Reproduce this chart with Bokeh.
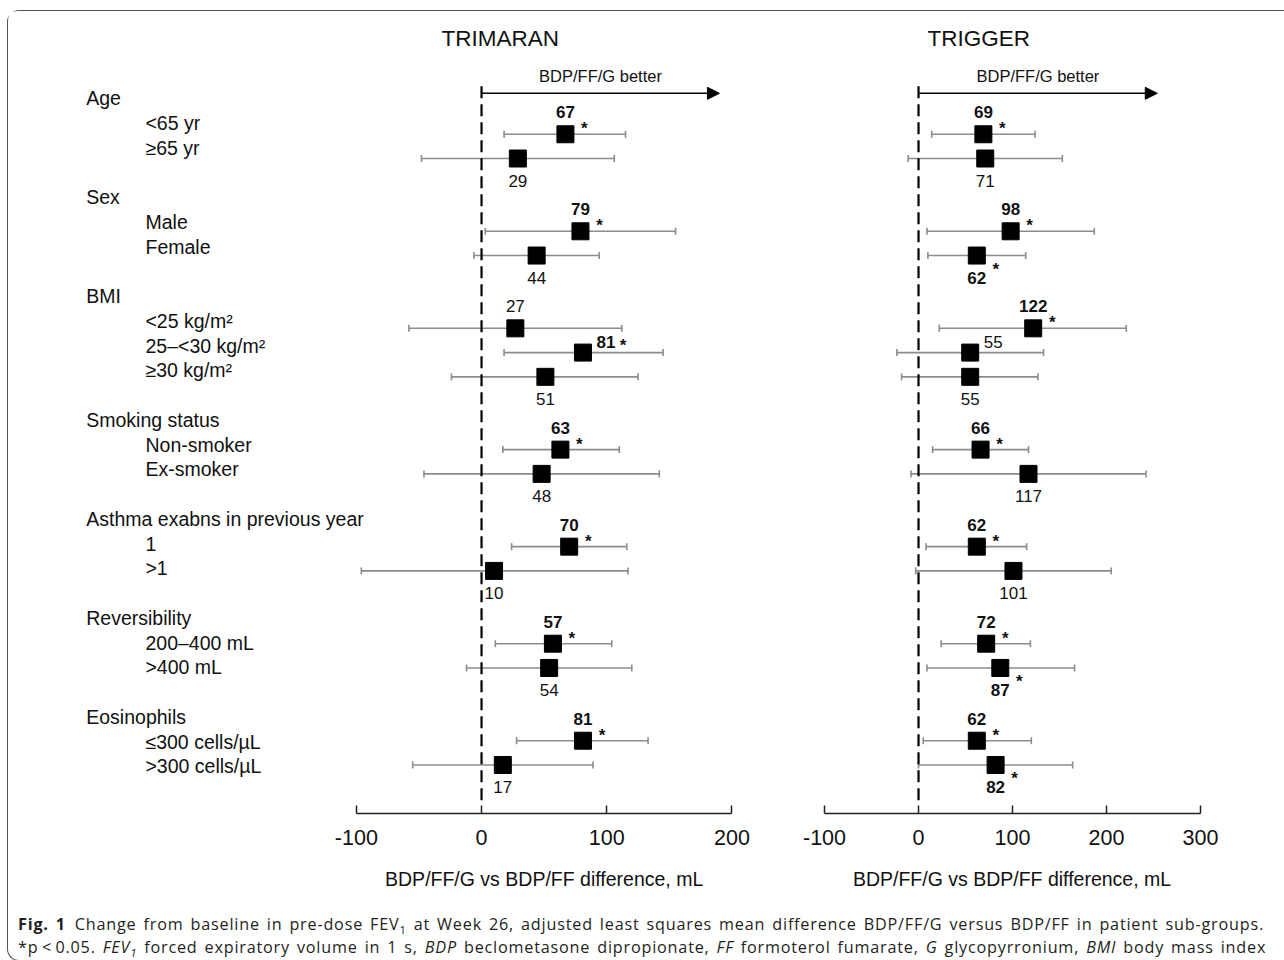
from bokeh.plotting import figure
from bokeh.models import (Range1d, LinearAxis, FixedTicker, Whisker, TeeHead, Arrow,
                          NormalHead, ColumnDataSource, Div)
from bokeh.layouts import row, column
from bokeh.core.properties import value
from bokeh.embed import file_html
from bokeh.resources import INLINE

# ---------------- data ----------------
group_headers = ["Age", "Sex", "BMI", "Smoking status",
                 "Asthma exabns in previous year", "Reversibility", "Eosinophils"]
subgroups = [["<65 yr", "≥65 yr"],
             ["Male", "Female"],
             ["<25 kg/m²", "25–<30 kg/m²", "≥30 kg/m²"],
             ["Non-smoker", "Ex-smoker"],
             ["1", ">1"],
             ["200–400 mL", ">400 mL"],
             ["≤300 cells/µL", ">300 cells/µL"]]

tri_est = [67, 29, 79, 44, 27, 81, 51, 63, 48, 70, 10, 57, 54, 81, 17]
tri_lo = [18, -48, 3, -6, -58, 18, -24, 17, -46, 24, -96, 11, -12, 28, -55]
tri_hi = [115, 106, 155, 94, 112, 145, 125, 110, 142, 116, 117, 104, 120, 133, 89]
tri_sig = [1, 0, 1, 0, 0, 1, 0, 1, 0, 1, 0, 1, 0, 1, 0]
tri_pos = ["above", "below", "above", "below", "above", "right", "below",
           "above", "below", "above", "below", "above", "below", "above", "below"]

trig_est = [69, 71, 98, 62, 122, 55, 55, 66, 117, 62, 101, 72, 87, 62, 82]
trig_lo = [14, -11, 9, 10, 22, -23, -18, 15, -8, 8, -3, 24, 9, 5, 0]
trig_hi = [124, 153, 187, 114, 221, 133, 127, 117, 242, 115, 205, 119, 166, 120, 164]
trig_sig = [1, 0, 1, 1, 1, 0, 0, 1, 0, 1, 0, 1, 1, 1, 1]
trig_pos = ["above", "below", "above", "below", "above", "right", "below",
            "above", "below", "above", "below", "above", "below", "above", "below"]

tri_ticks = [-100, 0, 100, 200]
trig_ticks = [-100, 0, 100, 200, 300]
x_title = "BDP/FF/G vs BDP/FF difference, mL"
better_text = "BDP/FF/G better"

# ---------------- layout helpers ----------------
FONT = "Liberation Sans"
header_rows, item_rows, item_labels = [], [], []
r = 0
for h, subs in zip(group_headers, subgroups):
    header_rows.append(r)
    for k, s in enumerate(subs):
        item_rows.append(r + 1 + k)
        item_labels.append(s)
    r += len(subs) + 2

FRAME_H = 802
Y_RANGE = (29.0, -4.06)
LAB_RANGE = (28.91, -3.508)
TITLE_ROW = -2.955
BETTER_ROW = -1.385
ARROW_ROW = -0.688
DASH_ROWS = [-0.977, 28.70]
AXTITLE_ROW = 31.71

LBL_OFF = {"above": (0, -22), "below": (0, 22), "right": (23, -11)}
STAR_OFF = {"above": (19, -5.5), "below": (19, 13.7), "right": (40, -7)}


def tick_overrides(ticks):
    return {t: str(t) for t in ticks}


def make_panel(p, est, lo, hi, sig, pos, arrow_end, title, title_x):
    # zero reference line
    p.line(x=[0, 0], y=DASH_ROWS, line_color="black", line_width=2.2, line_dash="12 6")
    # CI whiskers
    src = ColumnDataSource(dict(row=item_rows, est=est, lo=lo, hi=hi))
    wcol = "#8c8c8c"
    w = Whisker(source=src, base="row", lower="lo", upper="hi", dimension="width",
                line_color=wcol, line_width=1.6,
                upper_head=TeeHead(size=7, line_color=wcol, line_width=1.6),
                lower_head=TeeHead(size=7, line_color=wcol, line_width=1.6))
    p.add_layout(w)
    p.scatter(x="est", y="row", source=src, marker="square", size=17,
              fill_color="black", line_color="black")
    # value labels
    for bold in (1, 0):
        idx = [i for i in range(len(est)) if sig[i] == bold]
        s = ColumnDataSource(dict(
            x=[est[i] for i in idx], y=[item_rows[i] for i in idx],
            t=[str(est[i]) for i in idx],
            dx=[LBL_OFF[pos[i]][0] for i in idx], dy=[LBL_OFF[pos[i]][1] for i in idx]))
        p.text(x="x", y="y", text="t", x_offset="dx", y_offset="dy", source=s,
               text_font=value(FONT), text_font_size="17px",
               text_font_style="bold" if bold else "normal",
               text_color="#111111", text_align="center", text_baseline="middle")
    idx = [i for i in range(len(est)) if sig[i]]
    s = ColumnDataSource(dict(
        x=[est[i] for i in idx], y=[item_rows[i] for i in idx],
        dx=[STAR_OFF[pos[i]][0] for i in idx], dy=[STAR_OFF[pos[i]][1] for i in idx]))
    p.text(x="x", y="y", text=value("*"), x_offset="dx", y_offset="dy", source=s,
           text_font=value(FONT), text_font_size="17px", text_font_style="bold",
           text_color="#111111", text_align="center", text_baseline="middle")
    # direction arrow
    p.add_layout(Arrow(end=NormalHead(size=12, fill_color="black", line_color="black"),
                       x_start=0, y_start=ARROW_ROW, x_end=arrow_end, y_end=ARROW_ROW,
                       line_color="black", line_width=1.5))
    p.text(x=[arrow_end / 2], y=[BETTER_ROW], text=[better_text],
           text_font=value(FONT), text_font_size="16.5px", text_color="#111111",
           text_align="center", text_baseline="middle")
    # panel title
    p.text(x=[title_x], y=[TITLE_ROW], text=[title],
           text_font=value(FONT), text_font_size="22.5px", text_color="#111111",
           text_align="center", text_baseline="middle")


def base_fig(xr, fw):
    p = figure(frame_width=fw, frame_height=FRAME_H, x_range=Range1d(*xr),
               y_range=Range1d(*Y_RANGE), output_backend="svg", toolbar_location=None,
               min_border_left=0, min_border_right=0, min_border_top=0,
               min_border_bottom=95, x_axis_location=None, y_axis_location=None,
               outline_line_color=None, background_fill_color="white",
               border_fill_color="white")
    p.grid.visible = False
    return p


def add_axis(p, ticks, label=""):
    ax = LinearAxis(ticker=FixedTicker(ticks=ticks), bounds=(ticks[0], ticks[-1]),
                    major_label_overrides=tick_overrides(ticks),
                    major_tick_in=8, major_tick_out=0, minor_tick_line_color=None,
                    axis_line_color="#222222", axis_line_width=1.5,
                    major_tick_line_color="#222222", major_tick_line_width=1.5,
                    major_label_text_font=FONT, major_label_text_font_size="21.5px",
                    major_label_text_color="#111111", major_label_standoff=16,
                    axis_label=label, axis_label_text_font=FONT,
                    axis_label_text_font_size="19.5px", axis_label_text_font_style="normal",
                    axis_label_text_color="#111111", axis_label_standoff=20)
    p.add_layout(ax, "below")
    return ax


# ---------------- TRIMARAN (with subgroup labels) ----------------
pA = base_fig((-377.8, 220.4), 749)
pA.extra_y_ranges = {"lab": Range1d(*LAB_RANGE)}
pA.text(x=[-315.7] * len(header_rows), y=header_rows, text=group_headers,
        y_range_name="lab", text_font=value(FONT), text_font_size="19.5px",
        text_color="#111111", text_align="left", text_baseline="middle")
pA.text(x=[-268.4] * len(item_rows), y=item_rows, text=item_labels,
        y_range_name="lab", text_font=value(FONT), text_font_size="19.5px",
        text_color="#111111", text_align="left", text_baseline="middle")
make_panel(pA, tri_est, tri_lo, tri_hi, tri_sig, tri_pos, 190, "TRIMARAN", 15)
add_axis(pA, tri_ticks)
pA.text(x=[(tri_ticks[0] + tri_ticks[-1]) / 2], y=[AXTITLE_ROW], text=[x_title],
        level="overlay", text_font=value(FONT), text_font_size="19.5px",
        text_color="#111111", text_align="center", text_baseline="middle")

# ---------------- TRIGGER ----------------
pB = base_fig((-171.3, 370.2), 509)
make_panel(pB, trig_est, trig_lo, trig_hi, trig_sig, trig_pos, 254, "TRIGGER", 64)
add_axis(pB, trig_ticks, x_title)

# ---------------- caption ----------------
caption = ('<b>Fig. 1</b>&ensp;Change from baseline in pre-dose FEV<sub style="font-size:70%;line-height:0">1</sub> '
           'at Week 26, adjusted least squares mean difference BDP/FF/G versus BDP/FF in patient sub-groups.<br>'
           '*p&thinsp;&lt;&thinsp;0.05. <i>FEV<sub style="font-size:70%;line-height:0">1</sub></i> forced expiratory volume in 1 s, '
           '<i>BDP</i> beclometasone dipropionate, <i>FF</i> formoterol fumarate, '
           '<i>G</i> glycopyrronium, <i>BMI</i> body mass index')
cap = Div(text=caption, width=1266, height=42,
          styles={"font-family": "'Open Sans', sans-serif", "font-size": "16.2px",
                  "line-height": "23px", "letter-spacing": "0.8px",
                  "word-spacing": "2px", "color": "#231f20", "white-space": "nowrap",
                  "padding-left": "5px"})

layout = column(row(pA, pB), cap, margin=(10, 0, 0, 7),
                styles={"border": "1.2px solid #555555", "border-right": "none",
                        "border-radius": "12px 0 0 12px", "background": "white"})

open("out.html", "w").write(file_html(layout, INLINE))
